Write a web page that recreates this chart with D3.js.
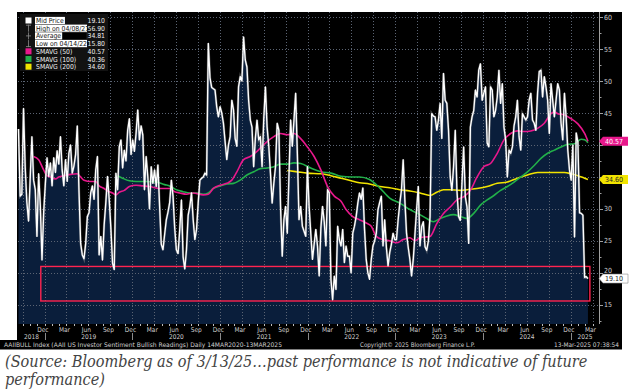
<!DOCTYPE html>
<html>
<head>
<meta charset="utf-8">
<script src="https://cdn.jsdelivr.net/npm/d3@7/dist/d3.min.js"></script>
<style>
  body { margin: 0; background: #fff; }
  svg { display: block; }
  .bb { font-family: "DejaVu Sans Condensed", "DejaVu Sans", sans-serif; font-stretch: condensed; }
  .cap { font-family: "DejaVu Serif Condensed", "DejaVu Serif", serif; font-stretch: condensed; font-style: italic; }
</style>
</head>
<body>
<svg id="chart" width="631" height="391"></svg>
<script>
// weekly AAII bullish readings, one value per Thursday starting 13 Sep 2018
var bull2018 = [42.5, 32.0, 32.3, 45.7, 36.5, 31.0, 28.1, 35.0, 41.3, 34.5, 33.0, 25.7, 35.5, 30.5, 22.0, 29.5];
var bull2019 = [34.0, 38.0, 35.1, 37.2, 33.6, 38.0, 35.7, 39.1, 37.0, 41.3, 36.1, 33.6, 37.7, 34.3, 38.7, 40.0,
  35.6, 36.7, 38.5, 43.0, 33.0, 24.6, 22.8, 22.2, 24.6, 28.8, 29.4, 32.5, 33.6, 31.5, 36.1, 38.2, 22.8, 25.7,
  22.0, 27.5, 31.0, 35.1, 31.5, 27.0, 21.5, 20.5, 35.6, 33.0, 39.7, 40.8, 36.4, 39.2, 37.5, 42.3, 44.1, 38.5];
var bull2020 = [40.8, 39.0, 41.8, 45.5, 40.8, 43.0, 41.6, 33.0, 38.2, 35.0, 30.0, 36.6, 34.0, 36.1, 33.5, 36.9,
  30.5, 24.5, 23.6, 26.0, 28.3, 29.5, 31.0, 34.5, 32.0, 27.0, 23.6, 23.0, 26.8, 31.4, 22.5, 20.6, 23.6, 29.0,
  30.4, 32.5, 28.3, 25.2, 26.8, 31.0, 34.5, 34.8, 35.0, 35.6, 35.3, 55.9, 50.5, 49.0, 48.8, 48.6, 46.0, 44.4, 46.0];
var bull2021 = [45.0, 43.4, 40.5, 37.7, 40.0, 41.3, 47.0, 45.5, 41.0, 39.8, 49.1, 50.7, 50.0, 56.9, 53.3, 52.2,
  47.0, 43.9, 42.8, 36.6, 41.0, 43.9, 40.8, 41.3, 36.6, 44.0, 49.1, 42.8, 39.8, 35.6, 30.9, 34.0, 36.6, 43.4,
  42.3, 30.4, 22.6, 28.3, 30.4, 26.2, 35.0, 43.9, 39.8, 43.9, 48.1, 38.7, 28.3, 30.4, 27.3, 26.5, 25.7, 36.6];
var bull2022 = [30.4, 26.2, 22.1, 24.5, 26.8, 24.2, 19.5, 27.0, 30.4, 28.0, 24.2, 33.0, 32.5, 19.0, 15.8, 19.5,
  17.4, 27.3, 25.2, 24.2, 26.8, 21.6, 24.2, 22.6, 22.6, 20.0, 26.2, 27.3, 28.8, 30.9, 32.5, 31.5, 33.3, 26.8,
  22.1, 20.0, 19.0, 22.1, 24.2, 25.0, 26.2, 29.9, 31.0, 32.0, 24.2, 28.3, 24.0, 21.1, 23.2, 24.5, 26.2, 25.2];
var bull2023 = [25.2, 28.3, 30.9, 33.0, 37.7, 31.4, 26.2, 24.0, 22.1, 19.5, 22.1, 26.0, 29.9, 33.5, 24.2, 27.2,
  28.0, 24.1, 23.5, 25.0, 28.8, 44.9, 44.5, 44.4, 42.3, 43.9, 46.5, 41.0, 51.2, 47.0, 46.5, 42.3, 35.0, 32.9,
  36.6, 42.3, 32.9, 28.8, 28.2, 34.0, 39.7, 31.9, 30.3, 24.6, 42.8, 44.4, 45.4, 48.6, 47.5, 51.7, 52.7, 47.0];
var bull2024 = [48.1, 49.1, 40.3, 39.7, 49.1, 48.6, 44.4, 45.4, 47.5, 51.7, 46.5, 49.6, 42.8, 40.8, 35.0, 39.2,
  38.7, 39.7, 43.0, 44.4, 47.0, 41.3, 39.2, 44.9, 44.4, 43.9, 44.4, 47.0, 48.1, 43.9, 43.4, 42.3, 48.1, 51.5,
  51.7, 47.5, 50.7, 49.1, 47.0, 41.8, 49.6, 47.0, 44.4, 47.0, 49.6, 48.6, 43.4, 40.8, 48.1, 44.4, 39.2, 36.1];
var bull2025 = [34.5, 40.0, 25.6, 41.9, 40.5, 29.4, 29.3, 29.0, 19.3, 19.4, 19.1];

// moving averages, read at week numbers of the series above
var ma50Week = [9, 12, 15, 17, 19, 22, 24, 27, 31, 35, 37, 39, 43, 46, 48, 51, 53, 56, 58, 60, 63, 66, 70, 74, 78,
  84, 90, 93, 96, 100, 104, 110, 113, 116, 120, 124, 127, 130, 134, 138, 142, 147, 152, 156, 160, 164, 168, 172,
  176, 180, 184, 188, 192, 195, 199, 203, 207, 210, 213, 217, 221, 225, 229, 233, 236, 239, 245, 249, 253, 257,
  261, 265, 269, 273, 277, 281, 285, 289, 293, 297, 301, 305, 309, 313, 317, 319, 321, 325, 329, 333, 337, 339];
var ma50Val = [38.2, 37.7, 36.1, 35.2, 35.0, 34.7, 35.0, 35.2, 35.4, 35.5, 35.0, 34.5, 34.3, 34.3, 33.6, 33.2,
  32.8, 32.5, 32.2, 32.6, 32.9, 33.5, 33.7, 33.6, 33.5, 33.2, 33.2, 32.7, 32.5, 32.3, 32.5, 32.2, 32.3, 33.2,
  33.7, 34.0, 34.5, 35.8, 37.7, 38.2, 39.0, 40.3, 41.3, 41.8, 41.6, 41.8, 41.0, 39.7, 38.2, 36.1, 33.5, 32.0,
  31.2, 29.9, 28.8, 28.3, 27.8, 27.3, 25.7, 25.2, 25.0, 24.7, 25.2, 25.5, 25.0, 25.5, 25.7, 27.7, 29.3, 30.3,
  31.4, 31.9, 32.9, 35.0, 36.6, 37.1, 38.7, 40.8, 41.8, 42.2, 42.1, 42.2, 42.6, 43.4, 44.9, 45.2, 44.9, 44.7,
  44.1, 43.3, 41.8, 40.57];
var ma100Week = [59, 62, 66, 70, 76, 82, 87, 90, 94, 98, 102, 106, 110, 113, 116, 120, 124, 128, 132, 136, 140,
  144, 148, 152, 156, 160, 164, 168, 174, 180, 186, 192, 198, 203, 209, 215, 221, 227, 233, 239, 243, 247, 251,
  255, 259, 263, 267, 271, 275, 279, 283, 287, 291, 295, 299, 303, 307, 311, 315, 319, 323, 327, 331, 335, 337, 339];
var ma100Val = [35.2, 34.8, 34.4, 34.3, 34.3, 34.2, 33.8, 33.6, 33.0, 32.7, 32.5, 32.5, 32.3, 32.5, 33.2, 33.6,
  33.9, 34.0, 34.5, 35.3, 35.8, 36.3, 36.4, 36.6, 37.0, 37.0, 37.2, 37.1, 36.4, 35.8, 35.6, 35.1, 35.0, 35.0,
  34.6, 33.3, 31.7, 30.9, 29.9, 29.1, 28.5, 28.0, 28.5, 28.9, 29.1, 28.8, 28.5, 29.3, 30.6, 31.4, 32.1, 32.9,
  33.5, 34.2, 35.0, 35.8, 36.8, 37.9, 38.7, 39.2, 39.7, 40.1, 40.2, 40.9, 40.8, 40.36];
var ma200Week = [160, 166, 172, 180, 186, 192, 198, 203, 209, 215, 221, 227, 233, 239, 245, 249, 253, 257, 263,
  267, 273, 279, 285, 291, 297, 303, 309, 313, 319, 325, 329, 333, 337, 339];
var ma200Val = [36.0, 35.8, 35.6, 35.5, 35.2, 34.8, 34.4, 34.1, 33.9, 33.5, 33.3, 33.0, 32.8, 32.5, 32.1, 32.6,
  33.0, 33.0, 32.9, 33.0, 33.2, 33.5, 34.0, 34.2, 34.8, 35.3, 35.7, 35.7, 35.7, 35.7, 35.5, 35.2, 34.8, 34.6];

var legendLabels = ["Mid Price", "High on 04/08/21", "Average", "Low on 04/14/22", "SMAVG (50)", "SMAVG (100)", "SMAVG (200)"];
var legendValues = ["19.10", "56.90", "34.81", "15.80", "40.57", "40.36", "34.60"];
var yTicks = [15, 20, 25, 30, 35, 40, 45, 50, 55, 60];
var boxDates = ["2018-12-15", "2025-03-21"];
var boxVals = [15.6, 21.0];

var pink = "#e8188c", green = "#22b04a", yellow = "#f2e400";

var bullish = [].concat(bull2018, bull2019, bull2020, bull2021, bull2022, bull2023, bull2024, bull2025);
var firstWeek = Date.UTC(2018, 8, 13);
function weekDate(i) { return new Date(firstWeek + i * 7 * 864e5); }
var series = bullish.map(function(v, i) { return {date: weekDate(i), v: v}; });
function maPts(wk, vals) { return wk.map(function(w, i) { return {date: weekDate(w), v: vals[i]}; }); }

var svg = d3.select("#chart");
var plotL = 18, plotR = 599, plotT = 12, plotB = 324;

var x = d3.scaleUtc().domain([new Date(Date.UTC(2018, 8, 11)), new Date(Date.UTC(2025, 3, 28))]).range([plotL, plotR]);
var y = d3.scaleLinear().domain([12, 60.8]).range([plotB, plotT]);

// black terminal panel
svg.append("rect").attr("x", 17).attr("y", 12).attr("width", 605).attr("height", 329).attr("fill", "#000");
svg.append("rect").attr("x", 0).attr("y", 340).attr("width", 622).attr("height", 9.5).attr("fill", "#000");

// area under the price
var area = d3.area().x(function(d) { return x(d.date); }).y0(plotB).y1(function(d) { return y(d.v); });
svg.append("path").datum(series).attr("d", area).attr("fill", "#0a1e3b");

// grid
var quarters = d3.utcMonth.every(3).range(x.domain()[0], x.domain()[1]);
svg.append("g").selectAll("line").data(quarters).join("line")
  .attr("x1", function(d) { return Math.round(x(d)) + 0.5; })
  .attr("x2", function(d) { return Math.round(x(d)) + 0.5; })
  .attr("y1", plotT).attr("y2", plotB)
  .attr("stroke", "#5b6473").attr("stroke-width", 1).attr("stroke-dasharray", "1,2");
svg.append("g").selectAll("line").data(yTicks).join("line")
  .attr("x1", plotL).attr("x2", plotR)
  .attr("y1", function(d) { return Math.round(y(d)) + 0.5; })
  .attr("y2", function(d) { return Math.round(y(d)) + 0.5; })
  .attr("stroke", "#5b6473").attr("stroke-width", 1).attr("stroke-dasharray", "1,2");

// moving averages
var line = d3.line().x(function(d) { return x(d.date); }).y(function(d) { return y(d.v); });
var maLine = d3.line().x(function(d) { return x(d.date); }).y(function(d) { return y(d.v); }).curve(d3.curveMonotoneX);
[[ma200Week, ma200Val, yellow], [ma100Week, ma100Val, green], [ma50Week, ma50Val, pink]].forEach(function(m) {
  svg.append("path").datum(maPts(m[0], m[1])).attr("d", maLine)
    .attr("fill", "none").attr("stroke", m[2]).attr("stroke-width", 1.6);
});

// red highlight box
svg.append("rect")
  .attr("x", x(new Date(boxDates[0]))).attr("y", y(boxVals[1]))
  .attr("width", x(new Date(boxDates[1])) - x(new Date(boxDates[0])))
  .attr("height", y(boxVals[0]) - y(boxVals[1]))
  .attr("fill", "none").attr("stroke", "#ff2450").attr("stroke-width", 1.4);

// price line
svg.append("path").datum(series).attr("d", line)
  .attr("fill", "none").attr("stroke", "#9a9a9a").attr("stroke-width", 2.4).attr("stroke-opacity", 0.45);
svg.append("path").datum(series).attr("d", line)
  .attr("fill", "none").attr("stroke", "#fff").attr("stroke-width", 1.35).attr("stroke-linejoin", "round");

// value tags sit on the axis; tick labels they cover are not drawn
var tags = [[+legendValues[4], legendValues[4], pink, "#fff"],
            [+legendValues[6], legendValues[6], yellow, "#222"],
            [+legendValues[0], legendValues[0], "#fff", "#222"]];

// right axis
svg.append("line").attr("x1", plotR + 0.5).attr("x2", plotR + 0.5).attr("y1", plotT).attr("y2", plotB)
  .attr("stroke", "#a0a0a0");
svg.append("g").selectAll("line").data(d3.range(12.5, 61, 2.5)).join("line")
  .attr("x1", plotR).attr("x2", function(d) { return d % 5 === 0 ? plotR + 4 : plotR + 2.5; })
  .attr("y1", function(d) { return Math.round(y(d)) + 0.5; })
  .attr("y2", function(d) { return Math.round(y(d)) + 0.5; })
  .attr("stroke", "#a0a0a0");
var shownTicks = yTicks.filter(function(t) {
  return tags.every(function(tg) { return Math.abs(y(t) - y(tg[0])) > 5; });
});
function labelY(t) {
  // nudge a label up when a tag sits just below it
  var ly = y(t) + 2.5;
  tags.forEach(function(tg) {
    var d = y(tg[0]) - y(t);
    if (d > 0 && d < 9) ly -= 2;
  });
  return ly;
}
svg.append("g").selectAll("text").data(shownTicks).join("text").attr("class", "bb")
  .attr("x", plotR + 5).attr("y", labelY)
  .attr("font-size", 7).attr("fill", "#cfcfcf").text(function(d) { return d; });

tags.forEach(function(tg) {
  var ty = y(tg[0]), bg = tg[2];
  svg.append("path")
    .attr("d", "M" + plotR + "," + ty + "L" + (plotR + 4) + "," + (ty - 4.5) + "L" + 628 + "," + (ty - 4.5) +
      "L" + 628 + "," + (ty + 4.5) + "L" + (plotR + 4) + "," + (ty + 4.5) + "Z")
    .attr("fill", bg).attr("stroke", bg === "#fff" ? "#888" : "none").attr("stroke-width", 0.6);
  svg.append("text").attr("class", "bb").attr("x", plotR + 6).attr("y", ty + 2.5)
    .attr("font-size", 7).attr("fill", tg[3]).text(tg[1]);
});

// bottom axis: month ticks, quarter labels, years
var fmt = d3.utcFormat("%b");
svg.append("g").selectAll("line").data(d3.utcMonth.range(x.domain()[0], x.domain()[1])).join("line")
  .attr("x1", function(d) { return Math.round(x(d)) + 0.5; })
  .attr("x2", function(d) { return Math.round(x(d)) + 0.5; })
  .attr("y1", plotB).attr("y2", plotB + 2).attr("stroke", "#bdbdbd");
svg.append("g").selectAll("text").data(quarters.filter(function(d) { return x(d) > 30; })).join("text")
  .attr("class", "bb").attr("x", function(d) { return x(d) - 2; }).attr("y", 332)
  .attr("text-anchor", "middle").attr("font-size", 6.5).attr("fill", "#cfcfcf")
  .text(function(d) { return fmt(d3.utcMonth.offset(d, -1)); });
var years = d3.range(2018, 2026);
svg.append("g").selectAll("text").data(years).join("text")
  .attr("class", "bb")
  .attr("x", function(yr) {
    var a = Math.max(plotL, x(new Date(Date.UTC(yr, 0, 1))));
    var b = Math.min(plotR, x(new Date(Date.UTC(yr + 1, 0, 1))));
    return (a + b) / 2;
  })
  .attr("y", 339).attr("text-anchor", "middle").attr("font-size", 6.5).attr("fill", "#cfcfcf")
  .text(function(yr) { return yr; });
svg.append("g").selectAll("line").data(years.slice(1)).join("line")
  .attr("x1", function(yr) { return Math.round(x(new Date(Date.UTC(yr, 0, 1)))) + 0.5; })
  .attr("x2", function(yr) { return Math.round(x(new Date(Date.UTC(yr, 0, 1)))) + 0.5; })
  .attr("y1", 333).attr("y2", 340).attr("stroke", "#8a8a8a");

// footer
function fitText(t, x0, len, anchor) {
  svg.append("text").attr("class", "bb").attr("x", x0).attr("y", 347).attr("font-size", 6.3)
    .attr("fill", "#d0d0d0").attr("text-anchor", anchor)
    .attr("textLength", len).attr("lengthAdjust", "spacingAndGlyphs").text(t);
}
fitText("AAIIBULL Index (AAII US Investor Sentiment Bullish Readings)  Daily 14MAR2020-13MAR2025", 4, 278, "start");
fitText("Copyright\u00A9 2025 Bloomberg Finance L.P.", 360, 115, "start");
fitText("13-Mar-2025 07:38:54", 619, 65, "end");

// legend
var lg = svg.append("g");
lg.append("rect").attr("x", 20).attr("y", 14).attr("width", 88).attr("height", 57).attr("fill", "#121212");
legendLabels.forEach(function(lab, i) {
  var ry = 20.5 + i * 7.7;
  var t = lg.append("text").attr("class", "bb").attr("x", 36).attr("y", ry + 2.5).attr("font-size", 6.8)
    .attr("fill", i < 4 ? "#111" : "#f0f0f0").text(lab);
  if (i < 4) {
    var bb = t.node().getBBox();
    var endX = i === 0 || i === 2 ? bb.x + bb.width + 1 : 87;
    lg.insert("rect", function() { return t.node(); })
      .attr("x", 35).attr("y", ry - 3.6).attr("width", endX - 35).attr("height", 7.2).attr("fill", "#fff");
    if (i === 2) {
      lg.append("rect").attr("x", endX).attr("y", ry - 3.6).attr("width", 87 - endX).attr("height", 7.2)
        .attr("fill", "#000").attr("stroke", "#444").attr("stroke-width", 0.5);
    }
  }
  lg.append("text").attr("class", "bb").attr("x", 105).attr("y", ry + 2.5).attr("font-size", 6.8)
    .attr("text-anchor", "end").attr("fill", "#f0f0f0").text(legendValues[i]);
  var ix = 28.5;
  if (i === 0) {
    lg.append("rect").attr("x", ix - 3).attr("y", ry - 3).attr("width", 6).attr("height", 6).attr("fill", "#fff");
  } else if (i < 4) {
    var g = lg.append("g").attr("stroke", "#8c8c8c").attr("stroke-width", 0.8);
    g.append("line").attr("x1", ix).attr("x2", ix).attr("y1", ry - 3.5).attr("y2", ry + 3.5);
    var hy = i === 1 ? ry - 3 : i === 2 ? ry : ry + 3;
    g.append("line").attr("x1", ix - 2.5).attr("x2", ix + 2.5).attr("y1", hy).attr("y2", hy);
  } else {
    lg.append("rect").attr("x", ix - 3).attr("y", ry - 3).attr("width", 6).attr("height", 6)
      .attr("fill", [pink, green, yellow][i - 4]);
  }
});

// caption
var cap1 = svg.append("text").attr("class", "cap").attr("x", 5).attr("y", 367)
  .attr("font-size", 16).attr("fill", "#444")
  .text("(Source: Bloomberg as of 3/13/25\u2026past performance is not indicative of future");
var fs = 16 * 583 / cap1.node().getComputedTextLength();
cap1.attr("font-size", fs);
svg.append("text").attr("class", "cap").attr("x", 5).attr("y", 385)
  .attr("font-size", fs).attr("fill", "#444").text("performance)");
</script>
</body>
</html>
